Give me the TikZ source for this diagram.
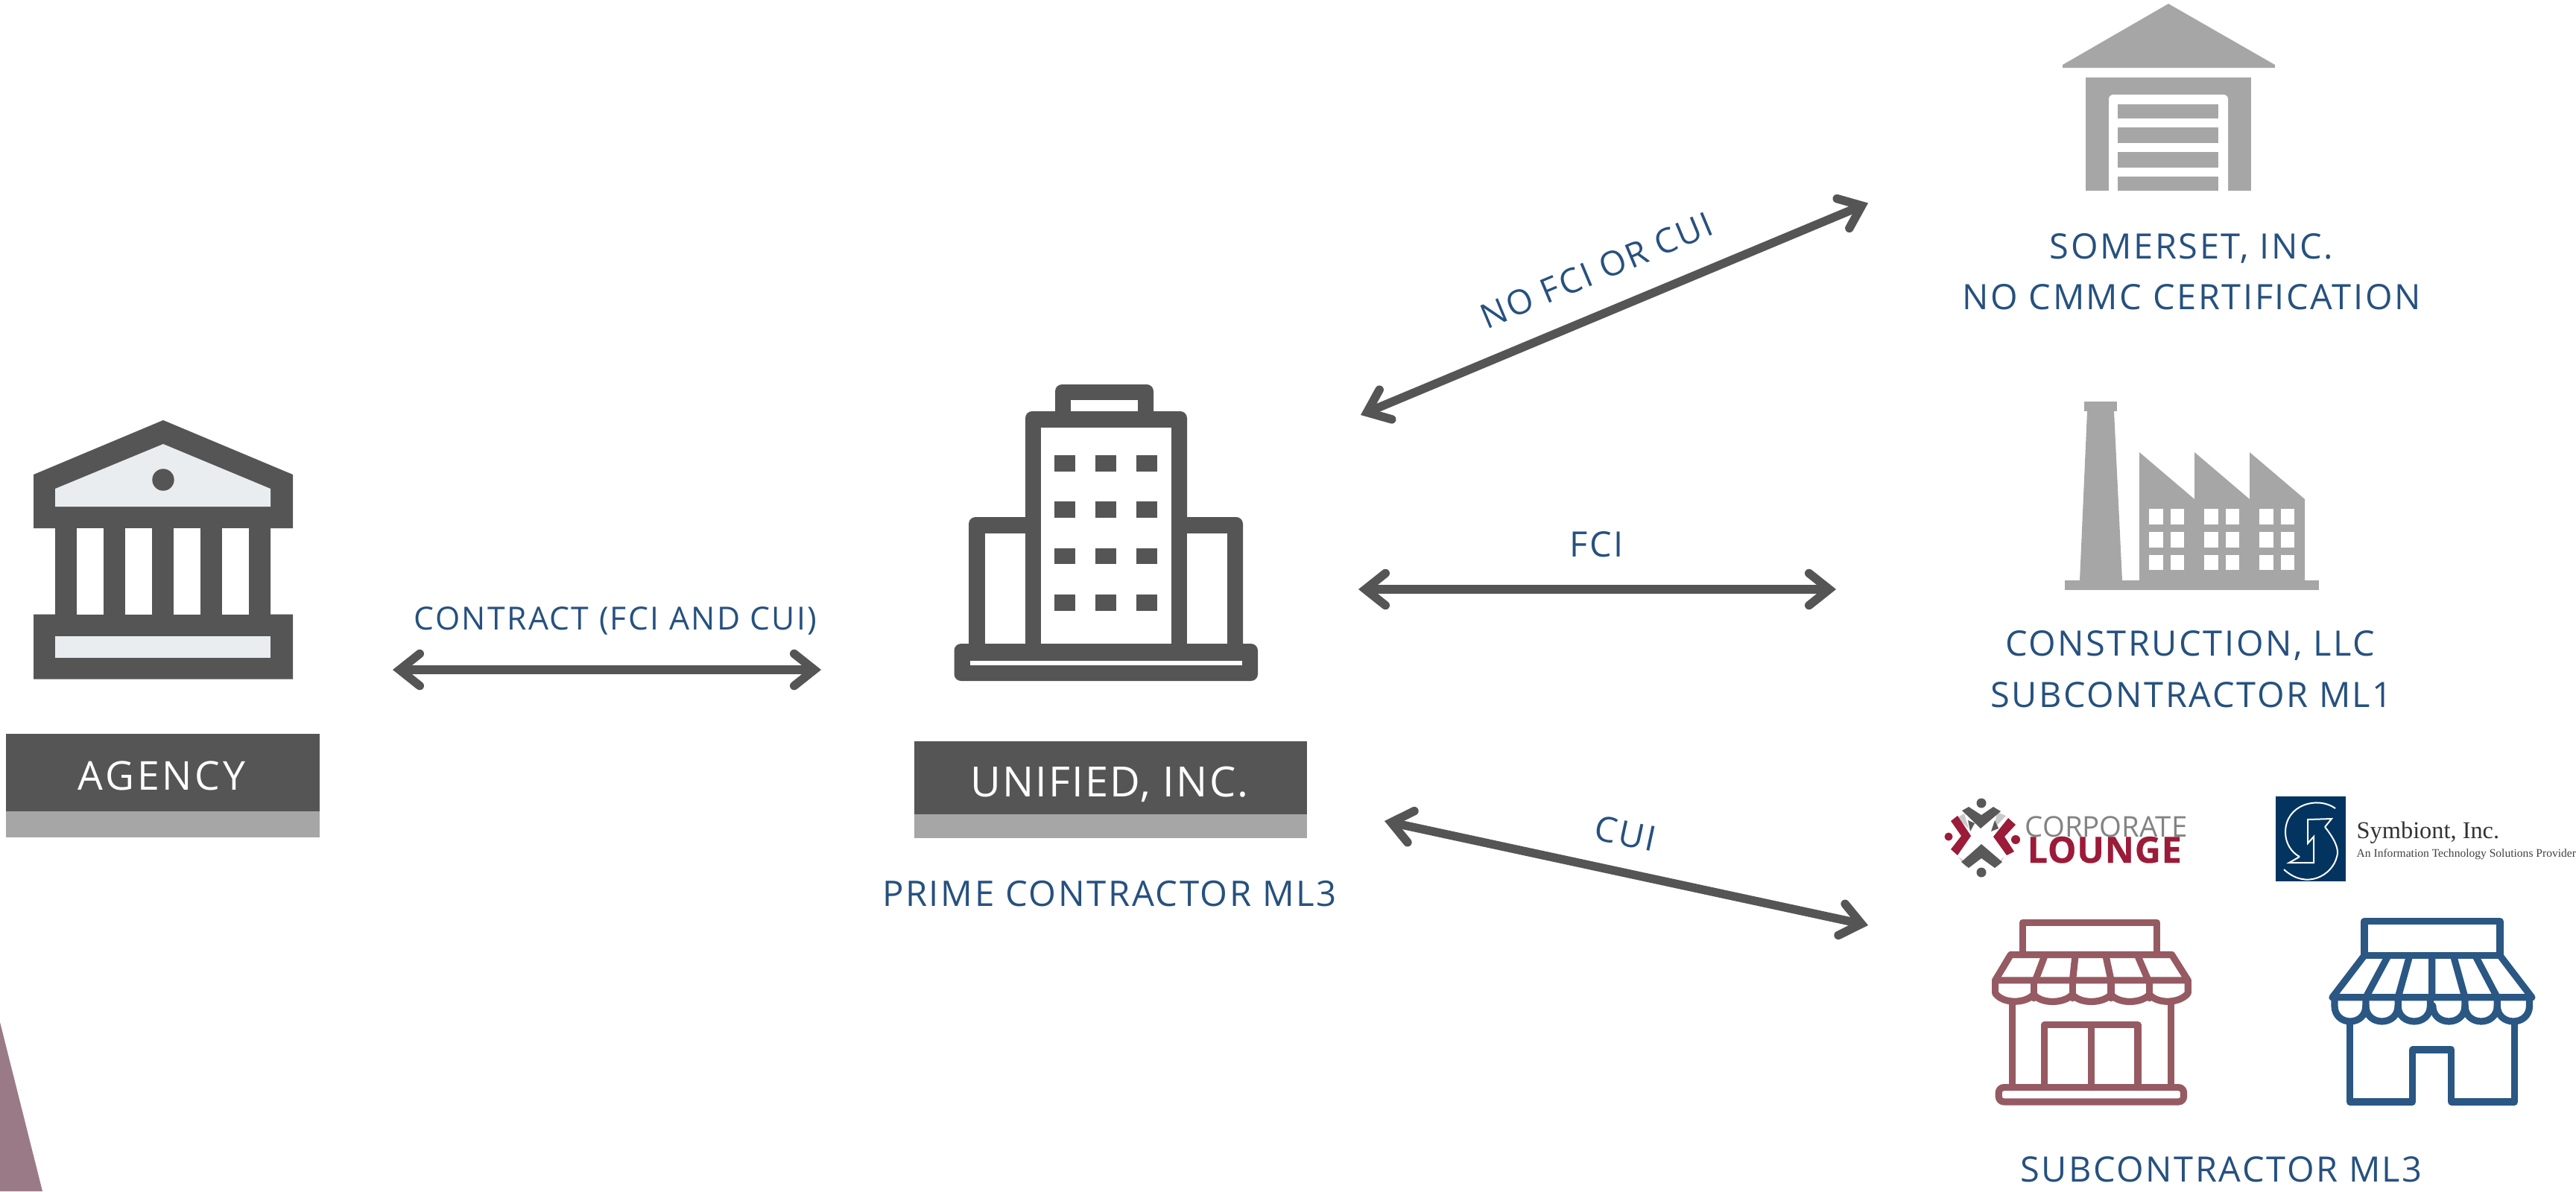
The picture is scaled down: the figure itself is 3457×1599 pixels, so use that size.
\documentclass[tikz,border=0pt]{standalone}
\usepackage{fontspec}
\usetikzlibrary{arrows.meta}
\setmainfont{Open Sans}
\newfontfamily\lab[LetterSpace=5.5]{Open Sans}
\newfontfamily\labw[LetterSpace=7]{Open Sans}
\newfontfamily\labu[LetterSpace=4]{Open Sans}
\newfontfamily\logobold[LetterSpace=1.5,FakeBold=0.5]{Open Sans}
\newfontfamily\serifl{Liberation Serif}
\definecolor{dark}{HTML}{555555}
\definecolor{midgray}{HTML}{A6A6A6}
\definecolor{pale}{HTML}{E9EDF0}
\definecolor{navytext}{HTML}{26517F}
\definecolor{rosestore}{HTML}{965A62}
\definecolor{bluestore}{HTML}{2A5783}
\definecolor{crimson}{HTML}{9B1B38}
\definecolor{logogray}{HTML}{595959}
\definecolor{wedge}{HTML}{9B7A87}
\definecolor{symnavy}{HTML}{03345F}
\tikzset{
  biarrow/.style={draw=dark,line width=0.115cm,
    {Straight Barb[length=0.27cm,width=0.43cm,line cap=round,line join=miter]}-{Straight Barb[length=0.27cm,width=0.43cm,line cap=round,line join=miter]}},
  bluelabel/.style={text=navytext,anchor=base,inner sep=0pt,font=\lab\fontsize{13.35pt}{16pt}\selectfont},
  banner/.style={text=white,anchor=base,inner sep=0pt,font=\labw\fontsize{15.2pt}{18pt}\selectfont},
  store/.style={line width=0.092cm,line join=round,line cap=round},
  bldg/.style={fill=dark,rounded corners=2.6pt}
}
\begin{document}
\begin{tikzpicture}[x=0.01cm,y=-0.01cm]
\useasboundingbox (0,0) rectangle (3457,1599);
% wedge
\fill[wedge] (0,1372) -- (57,1599) -- (0,1599) -- cycle;
% agency icon
\fill[dark] (219,564) -- (393,637) -- (393,709) -- (363,709) -- (363,824.5) -- (393,824.5) -- (393,911.5) -- (45,911.5) -- (45,824.5) -- (74,824.5) -- (74,709) -- (45,709) -- (45,637) -- cycle;
\fill[pale] (219,596) -- (363,656) -- (363,680) -- (74,680) -- (74,656) -- cycle;
\fill[dark] (219,644) circle (14.7);
\foreach \a/\b in {103/139,168/204,233/269,298/334}{\fill[white] (\a,709) rectangle (\b,824.5);}
\fill[pale] (74,854) rectangle (363,882.6);
\fill[dark] (8,985) rectangle (429,1088.6);
\fill[midgray] (8,1088.6) rectangle (429,1124);
\node[banner] (agency) at (217,1060) {AGENCY};
% unified icon
\path[bldg] (1416,572) -- (1416,516) -- (1548,516) -- (1548,572) -- cycle;
\fill[white] (1437,537) rectangle (1527,552);
\path[bldg] (1300,885) -- (1300,694) -- (1400,694) -- (1400,885) -- cycle;
\path[bldg] (1570,885) -- (1570,694) -- (1668,694) -- (1668,885) -- cycle;
\path[bldg] (1376,885) -- (1376,552) -- (1593,552) -- (1593,885) -- cycle;
\fill[white] (1397,574) rectangle (1572,864);
\fill[white] (1322,716) rectangle (1376,864);
\fill[white] (1593,716) rectangle (1647,864);
\path[bldg] (1280.5,864) rectangle (1688,914);
\fill[white] (1302,886.5) rectangle (1667,893);
\foreach \a/\b in {1415/1443,1470/1498,1525/1553}{
 \foreach \c/\d in {611/633,673/695,735.5/757,798/819.5}{\fill[dark] (\a,\c) rectangle (\b,\d);}}
\fill[dark] (1227,995) rectangle (1754,1093);
\fill[midgray] (1227,1093) rectangle (1754,1125);
\node[banner,font=\labu\fontsize{15.9pt}{18pt}\selectfont] (unified) at (1489,1069) {UNIFIED, INC.};
\node[bluelabel,font=\lab\fontsize{13.45pt}{16pt}\selectfont] (prime) at (1489,1216) {PRIME CONTRACTOR ML3};
% garage
\fill[midgray] (2910,5) -- (3053,87) -- (3053,91) -- (2768,91) -- (2768,87) -- cycle;
\fill[midgray] (2799,104) rectangle (3021,256);
\fill[white,rounded corners=1.7pt] (2830,270) -- (2830,127) -- (2990,127) -- (2990,270) -- cycle;
\fill[white] (2790,256.5) rectangle (3030,275);
\foreach \c/\d in {140/159,171/192,204/225,237/256}{\fill[midgray] (2842,\c) rectangle (2977,\d);}
\node[bluelabel] (somerset) at (2941,347) {SOMERSET, INC.};
\node[bluelabel] (nocmmc) at (2941,415) {NO CMMC CERTIFICATION};
% factory
\fill[midgray] (2797,539) rectangle (2841,552);
\fill[midgray] (2801,552) -- (2837,552) -- (2848,779) -- (2791,779) -- cycle;
\fill[midgray] (2771,779) rectangle (3112,792);
\fill[midgray] (2871,780) -- (2871,607) -- (2945,670) -- (2945,607) -- (3019,670) -- (3019,607) -- (3093,670) -- (3093,780) -- cycle;
\foreach \a/\b in {2884.3/2902.7,2913/2931.3,2958.3/2976.7,2987/3005.3,3032.3/3050.7,3060.7/3079}{
 \foreach \c/\d in {683.3/704,714.3/734.7,745/765.3}{\fill[white] (\a,\c) rectangle (\b,\d);}}
\node[bluelabel] (construction) at (2939,880) {CONSTRUCTION, LLC};
\node[bluelabel] (subml1) at (2941,949) {SUBCONTRACTOR ML1};
% corporate lounge logo
\fill[logogray] (2659,1078) circle (6.5);
\fill[logogray] (2659,1171) circle (6.5);
\fill[crimson] (2615,1123) circle (5.5);
\fill[crimson] (2705,1127) circle (6);
\fill[midgray!60] (2680,1090) -- (2692,1095) -- (2676,1112) -- cycle;
\fill[midgray!60] (2636,1092) -- (2626,1098) -- (2642,1112) -- cycle;
\fill[midgray!60] (2628,1150) -- (2640,1166) -- (2634,1154) -- cycle;
\fill[midgray!60] (2690,1150) -- (2680,1165) -- (2686,1153) -- cycle;
\fill[logogray] (2633,1088) -- (2642,1083) -- (2659,1094) -- (2675,1083) -- (2685,1089) -- (2658,1112) -- cycle;
\fill[logogray] (2632,1157) -- (2659,1133) -- (2687,1157) -- (2677,1165) -- (2659,1152) -- (2642,1165) -- cycle;
\fill[crimson] (2618,1102) -- (2627,1095) -- (2645,1122) -- (2627,1148) -- (2618,1140) -- (2632,1122) -- cycle;
\fill[crimson] (2675,1123) -- (2695,1098) -- (2705,1107) -- (2690,1123) -- (2703,1143) -- (2693,1148) -- cycle;
\fill[logogray] (2641,1101) -- (2650,1105) -- (2644,1116) -- cycle;
\fill[logogray] (2677,1101) -- (2682,1112) -- (2672,1116) -- cycle;
\node[anchor=base west,inner sep=0pt,text=logogray!75,font=\fontsize{10.9pt}{12pt}\selectfont] (corporate) at (2717,1123) {CORPORATE};
\node[anchor=base west,inner sep=0pt,text=crimson,font=\logobold\bfseries\fontsize{13.8pt}{15pt}\selectfont] (lounge) at (2720,1158) {LOUNGE};
% symbiont logo
\fill[symnavy] (3054,1069) rectangle (3148,1183);
\draw[white,line width=0.02cm] (3134,1085) .. controls (3110,1068) and (3067,1080) .. (3067,1117) .. controls (3067,1132) and (3075,1144) .. (3086,1150);
\draw[white,line width=0.02cm] (3120,1110) .. controls (3132,1125) and (3140,1140) .. (3136,1150) .. controls (3130,1175) and (3095,1195) .. (3065,1167);
\draw[white,line width=0.02cm,line join=miter] (3120,1110) -- (3129,1099) -- (3097,1100) -- (3097,1132) -- (3105,1123) -- (3105,1158) -- (3072,1158) -- (3086,1150);
\node[anchor=base west,inner sep=0pt,text=black!80,font=\serifl\fontsize{9.2pt}{11pt}\selectfont] (symbiont) at (3162,1125) {Symbiont, Inc.};
\node[anchor=base west,inner sep=0pt,text=black!75,font=\serifl\fontsize{4.42pt}{5pt}\selectfont] (symsub) at (3162,1150) {An Information Technology Solutions Provider};
% rose store
\begin{scope}[shift={(2640,1210)},x=0.003333cm,y=-0.003333cm]
\draw[store,rosestore] (223,215) -- (223,85) -- (764,85) -- (764,215);
\draw[store,rosestore] (113,318) -- (175,215) -- (825,215) -- (890,318) -- cycle;
\draw[store,rosestore] (310,225) -- (275,318) (435,225) -- (425,318) (560,225) -- (580,318) (690,225) -- (730,318);
\draw[store,rosestore] (113,318) -- (113,370) .. controls (145,415) and (235,412) .. (268,375) .. controls (300,415) and (392,412) .. (424,375) .. controls (456,415) and (548,412) .. (580,375) .. controls (612,415) and (703,412) .. (735,375) .. controls (767,415) and (858,412) .. (890,370) -- (890,318);
\draw[store,rosestore] (268,318) -- (268,390) (424,318) -- (424,390) (580,318) -- (580,390) (735,318) -- (735,390);
\draw[store,rosestore] (181,405) -- (181,750) (821,405) -- (821,750);
\draw[store,rosestore] (312,750) -- (312,498) -- (688,498) -- (688,750) (500,498) -- (500,750);
\draw[store,rosestore,rounded corners=2pt] (127,750) rectangle (873,808);
\end{scope}
% blue store
\begin{scope}[shift={(3100,1210)},x=0.003333cm,y=-0.003333cm]
\draw[store,bluestore] (219,80) rectangle (766,218);
\draw[store,bluestore] (90,387) -- (219,218) (766,218) -- (895,387) (90,387) -- (895,387);
\draw[store,bluestore] (312,225) -- (225,387) (400,225) -- (355,387) (492,225) -- (492,387) (580,225) -- (625,387) (670,225) -- (755,387);
\draw[store,bluestore] (99,387) -- (99,420) .. controls (99,505) and (225,505) .. (225,420) -- (225,387);
\draw[store,bluestore] (225,420) .. controls (225,505) and (355,505) .. (355,420) -- (355,387);
\draw[store,bluestore] (355,420) .. controls (355,505) and (485,505) .. (485,420) -- (485,387);
\draw[store,bluestore] (495,420) .. controls (495,505) and (625,505) .. (625,420) -- (625,387);
\draw[store,bluestore] (625,420) .. controls (625,505) and (755,505) .. (755,420) -- (755,387);
\draw[store,bluestore] (755,420) .. controls (755,505) and (885,505) .. (885,420) -- (885,387);
\draw[store,bluestore] (160,485) -- (160,808) -- (414,808) -- (414,598) -- (570,598) -- (570,808) -- (825,808) -- (825,485);
\end{scope}
\node[bluelabel] (subml3) at (2981,1586) {SUBCONTRACTOR ML3};
% connector ends
\coordinate (agencyR) at (527,899);
\coordinate (unifiedL) at (1102,899);
\coordinate (unifiedNE) at (1826,557);
\coordinate (somersetW) at (2507,272.5);
\coordinate (unifiedE) at (1823,791);
\coordinate (constructionW) at (2464,791);
\coordinate (unifiedSE) at (1858,1102);
\coordinate (storesW) at (2507,1242);
\draw[biarrow] (agencyR) -- (unifiedL);
\draw[biarrow] (unifiedNE) -- (somersetW);
\draw[biarrow] (unifiedE) -- (constructionW);
\draw[biarrow] (unifiedSE) -- (storesW);
\node[bluelabel,font=\lab\fontsize{12.15pt}{14pt}\selectfont] (contract) at (826,845) {CONTRACT (FCI AND CUI)};
\node[bluelabel,font=\lab\fontsize{13pt}{16pt}\selectfont] (nofci) at (2149,378) [rotate=22.7] {NO FCI OR CUI};
\node[bluelabel] (fci) at (2143,747) {FCI};
\node[bluelabel] (cui) at (2178,1135) [rotate=-12.2] {CUI};
\end{tikzpicture}
\end{document}
